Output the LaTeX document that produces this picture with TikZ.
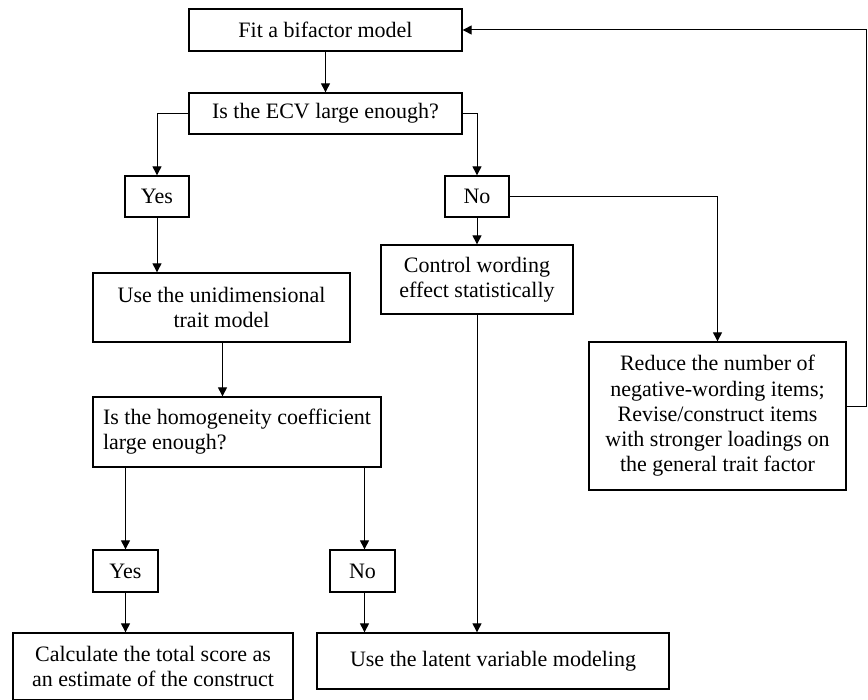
\documentclass[tikz,border=0pt]{standalone}
\usepackage{fontspec}
\setmainfont{Liberation Serif}
\usepackage{tikz}
\usetikzlibrary{shapes,arrows.meta,positioning,calc}

\begin{document}
\begin{tikzpicture}[x=0.5pt, y=-0.5pt, every node/.style={font=\fontsize{11}{12.6}\selectfont},
		box/.style={rectangle, draw, line width=0.65pt, inner sep=0pt, align=center},
		flow/.style={line width=0.5pt, -{Triangle[length=4.5pt,width=4.5pt]}}]
	\useasboundingbox (0,0) rectangle (868,700);
	\node[box, minimum width=136.5pt, minimum height=21pt] (fit) at (325.5,30) {Fit a bifactor model};
	\node[box, minimum width=136.5pt, minimum height=20.5pt] (ecv) at (325.5,113.5) {Is the ECV large enough?};
	\node[box, minimum width=32pt, minimum height=20.5pt] (yesA) at (157,196.5) {Yes};
	\node[box, minimum width=32pt, minimum height=20.5pt] (noA) at (477,196.5) {No};
	\node[box, minimum width=128.5pt, minimum height=34.5pt] (uni) at (221.5,307.5) {Use the unidimensional\\trait model};
	\node[box, minimum width=96pt, minimum height=34.5pt] (ctrl) at (477,279.5) {Control wording\\effect statistically};
	\node[box, minimum width=128.5pt, minimum height=74pt] (red) at (717.5,416) {Reduce the number of\\negative-wording items;\\Revise/construct items\\with stronger loadings on\\the general trait factor};
	\node[box, align=left, minimum width=144pt, minimum height=35pt] (homog) at (237,432) {Is the homogeneity coefficient\\large enough?};
	\node[box, minimum width=32.5pt, minimum height=21pt] (yesB) at (125.5,571) {Yes};
	\node[box, minimum width=32.5pt, minimum height=21pt] (noB) at (362.5,571) {No};
	\node[box, minimum width=140pt, minimum height=33.5pt] (calc) at (153,666.5) {Calculate the total score as\\an estimate of the construct};
	\node[box, minimum width=176pt, minimum height=28pt] (lat) at (493,661) {Use the latent variable modeling};
	\coordinate (loop) at (866,407);

	\draw[flow] (fit) -- (ecv);
	\draw[flow] (ecv.west) -| (yesA.north);
	\draw[flow] (ecv.east) -| (noA.north);
	\draw[flow] (yesA.south) -- (yesA.south |- uni.north);
	\draw[flow] (noA) -- (ctrl);
	\draw[flow] (noA.east) -| (red.north);
	\draw[flow] (red.east |- loop) -- (loop) |- (fit.east);
	\draw[flow] ([xshift=0.5pt]uni.south) -- ([xshift=0.5pt]uni.south |- homog.north);
	\draw[flow] (yesB.north |- homog.south) -- (yesB);
	\draw[flow] ([xshift=1pt]noB.north |- homog.south) -- ([xshift=1pt]noB.north);
	\draw[flow] (yesB.south) -- (yesB.south |- calc.north);
	\draw[flow] ([xshift=1pt]noB.south) -- ([xshift=1pt]noB.south |- lat.north);
	\draw[flow] (ctrl.south) -- (ctrl.south |- lat.north);
\end{tikzpicture}
\end{document}
